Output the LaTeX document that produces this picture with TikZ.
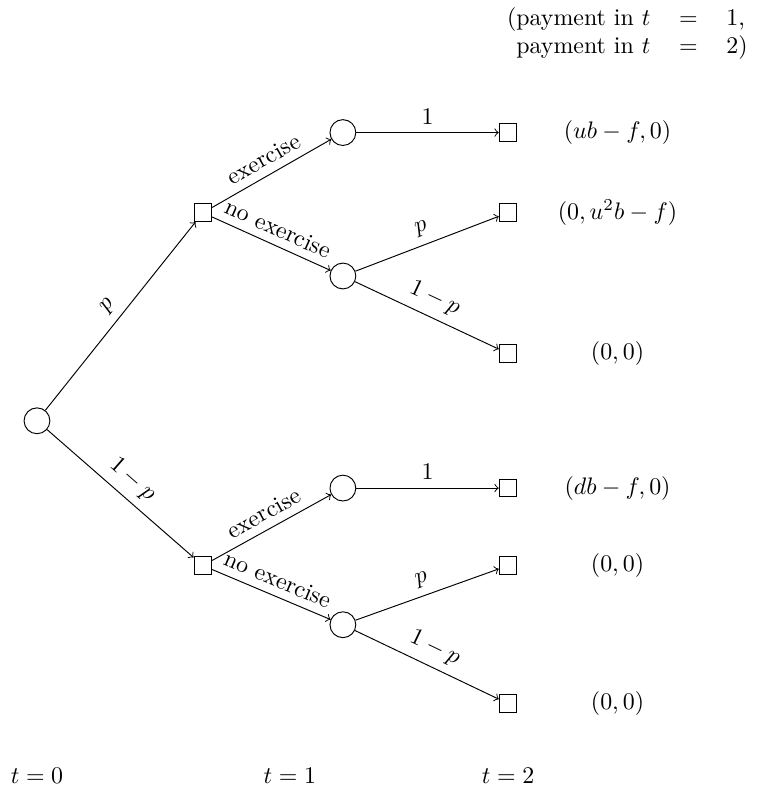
\documentclass[tikz,border=0pt]{standalone}
\begin{document}
\begin{tikzpicture}[chance/.style={circle, draw, minimum size=0.38cm, inner sep=0pt},
    choice/.style={rectangle, draw, minimum size=0.26cm, inner sep=0pt},
    lab/.style={midway, above, sloped}]
        \useasboundingbox (-0.544,-5.49) rectangle (10.60,6.19);
        \node[chance] (r) at (0,0) {};
        \node[choice] (d1) at (2.44,3.06) {};
        \node[choice] (d2) at (2.44,-2.13) {};
        \node[chance] (c1) at (4.5,4.24) {};
        \node[chance] (c2) at (4.5,2.13) {};
        \node[chance] (c3) at (4.5,-0.99) {};
        \node[chance] (c4) at (4.5,-3.0) {};
        \node[choice] (e1) at (6.93,4.24) {};
        \node[choice] (e2) at (6.93,3.06) {};
        \node[choice] (e3) at (6.93,0.99) {};
        \node[choice] (e4) at (6.93,-0.99) {};
        \node[choice] (e5) at (6.93,-2.13) {};
        \node[choice] (e6) at (6.93,-4.16) {};

        \node (pay1) at (8.54,4.24) {$(ub-f,0)$};
        \node (pay2) at (8.54,3.06) {$(0,u^2b-f)$};
        \node (pay3) at (8.54,0.99) {$(0,0)$};
        \node (pay4) at (8.54,-0.99) {$(db-f,0)$};
        \node (pay5) at (8.54,-2.13) {$(0,0)$};
        \node (pay6) at (8.54,-4.16) {$(0,0)$};

        \node (t0) at (0,-5.22) {$t=0$};
        \node (t1) at (3.72,-5.22) {$t=1$};
        \node (t2) at (6.93,-5.22) {$t=2$};

        \node[anchor=north east, inner sep=0pt] (head) at (10.46,6.12) {\begin{tabular}{@{}rcl@{}}
            (payment in $t$ & $=$ & $1$,\\
            payment in $t$ & $=$ & $2$)
          \end{tabular}};

        \draw[->] (r) -- node[lab] {$p$} (d1);
        \draw[->] (r) -- node[lab] {$1-p$} (d2);
        \draw[->] (d1) -- node[lab] {exercise} (c1);
        \draw[->] (d1) -- node[lab] {no exercise} (c2);
        \draw[->] (d2) -- node[lab] {exercise} (c3);
        \draw[->] (d2) -- node[lab] {no exercise} (c4);
        \draw[->] (c1) -- node[lab] {$1$} (e1);
        \draw[->] (c2) -- node[lab] {$p$} (e2);
        \draw[->] (c2) -- node[lab] {$1-p$} (e3);
        \draw[->] (c3) -- node[lab] {$1$} (e4);
        \draw[->] (c4) -- node[lab] {$p$} (e5);
        \draw[->] (c4) -- node[lab] {$1-p$} (e6);
      \end{tikzpicture}
\end{document}
